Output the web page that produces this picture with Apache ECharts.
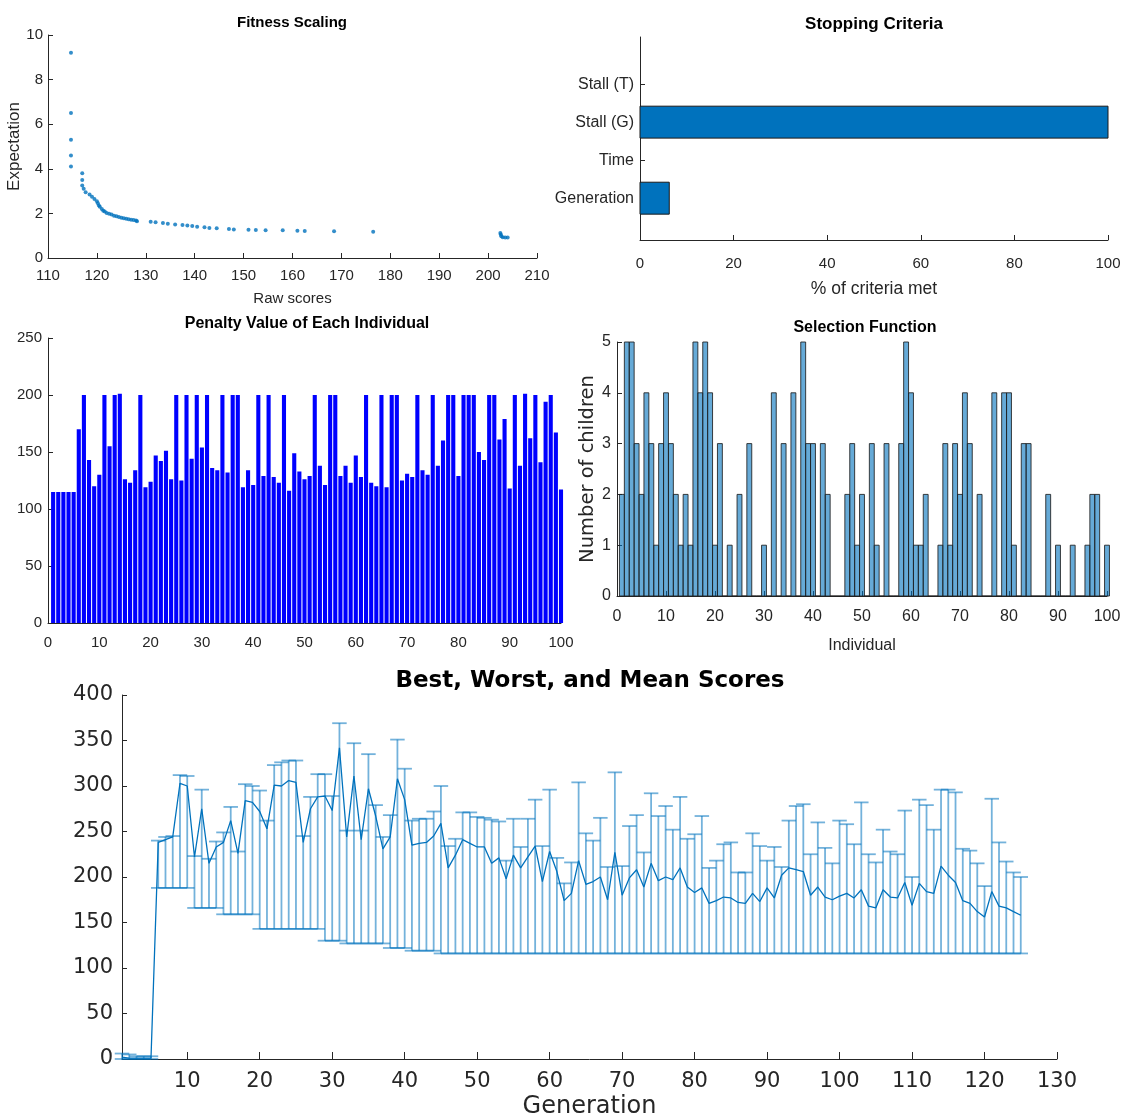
<!DOCTYPE html>
<html><head><meta charset="utf-8">
<script src="https://cdn.jsdelivr.net/npm/echarts@6.0.0/dist/echarts.min.js"></script>
<style>html,body{margin:0;padding:0;background:#fff}#c{width:1124px;height:1117px}</style>
</head><body><div id="c"></div>
<script>
// ---------- Fitness Scaling ----------
const fitRaw = [114.7,114.7,114.7,114.7,114.7,117,117,117,117.3,117.7,118.5,119,119.5,120,120.2,120.4,120.6,121,121.3,121.6,122,122.5,123,123.5,124,124.5,125,125.5,126,126.5,127,127.5,128,128.2,131,132,133.5,134.5,136,137.5,138.5,139.5,140.5,142,143,144.5,147,148,151,152.5,154.5,158,161,162.5,168.5,176.5,202.5,202.6,202.7,203,203.5,204];
const fitExp = [9.2,6.5,5.3,4.6,4.1,3.8,3.5,3.25,3.1,2.95,2.85,2.75,2.65,2.55,2.45,2.35,2.3,2.2,2.12,2.08,2.02,1.98,1.95,1.9,1.87,1.84,1.8,1.78,1.76,1.74,1.72,1.7,1.68,1.65,1.62,1.6,1.57,1.54,1.5,1.48,1.46,1.43,1.4,1.38,1.35,1.33,1.3,1.28,1.27,1.26,1.25,1.24,1.22,1.21,1.2,1.18,1.12,1.05,0.98,0.93,0.92,0.92];

// ---------- Stopping Criteria ----------
const stopNames = ['Generation','Time','Stall (G)','Stall (T)'];
const stopVals = [6.25,0,100,0];

// ---------- Penalty Value of Each Individual ----------
const penalty = [
115,115,115,115,115,170,200,143,120,130,
200,155,200,201,126,123,134,200,119,124,
147,142,151,126,200,125,200,144,200,154,
200,136,134,200,132,200,200,119,134,121,
200,129,200,128,123,200,116,149,133,126,
129,200,138,121,200,200,129,138,123,147,
128,200,123,120,200,119,200,200,125,131,
128,200,134,130,200,138,160,200,200,129,
200,200,200,150,143,200,200,161,179,118,
200,138,201,162,200,141,194,200,167,117];

// ---------- Selection Function ----------
const children = [
2,5,5,3,2,4,3,1,3,4,
3,2,1,2,1,5,4,5,4,1,
3,0,1,0,2,0,3,0,0,1,
0,4,0,3,0,4,0,5,3,3,
0,3,2,0,0,0,2,3,1,2,
0,3,1,0,3,0,0,3,5,4,
1,1,2,0,0,1,3,1,3,2,
4,3,0,2,0,0,4,0,4,4,
1,0,3,3,0,0,0,2,0,1,
0,0,1,0,0,1,2,2,0,1];

// ---------- Best, Worst, and Mean Scores ----------
const worstScore = [
6,5,3,3,3,240,244,245,312,311,
223,296,220,239,249,277,228,302,300,295,
262,323,326,328,328,245,288,313,313,289,
369,251,347,251,335,279,244,268,351,319,
262,264,264,272,300,234,242,271,271,266,
265,263,261,218,264,233,264,285,234,296,
221,193,216,304,248,240,265,211,315,212,
256,268,227,292,267,278,252,288,242,247,
267,210,218,236,238,205,205,248,234,218,
233,211,262,278,280,225,260,232,215,262,
258,236,282,225,216,252,228,225,273,200,
285,279,252,296,296,293,231,229,215,190,
286,238,217,205,200];
const meanScore = [
2,1,1,1,1,238,241,244,303,300,
222,275,215,233,238,262,226,284,282,272,
253,301,300,306,304,238,275,288,289,273,
342,244,311,241,297,267,231,244,308,285,
235,237,238,245,259,210,224,241,237,233,
233,215,221,198,224,210,222,234,195,228,
206,174,182,218,192,195,200,175,227,180,
199,208,189,215,196,200,197,210,189,183,
188,171,174,178,177,172,171,182,173,188,
177,202,210,208,206,180,189,178,175,179,
182,177,186,168,166,186,178,177,194,169,
193,184,182,212,202,194,174,171,162,156,
184,168,166,162,158];
const bestScore = [
0,0,0,0,0,188,188,188,188,188,
166,166,166,166,159,159,159,159,159,143,
143,143,143,143,143,143,143,143,130,130,
130,127,127,127,127,127,127,122,122,122,
119,119,119,119,116,116,116,116,116,116,
116,116,116,116,116,116,116,116,116,116,
116,116,116,116,116,116,116,116,116,116,
116,116,116,116,116,116,116,116,116,116,
116,116,116,116,116,116,116,116,116,116,
116,116,116,116,116,116,116,116,116,116,
116,116,116,116,116,116,116,116,116,116,
116,116,116,116,116,116,116,116,116,116,
116,116,116,116,116];
const genTicks = [10,20,30,40,50,60,70,80,90,100,110,120,130];

// ---------- chart ----------
const AXC = '#262626';
const SANS = '"Liberation Sans", Arial, sans-serif';
const DJ = '"DejaVu Sans", sans-serif';
const MBLUE = '#0072BD';

function xA(gi, o, fs, fam, margin) {
  return Object.assign({
    type: 'value', gridIndex: gi,
    axisLine: {show: true, onZero: false, lineStyle: {color: AXC, width: 1}},
    axisTick: {show: true, inside: true, length: 5, lineStyle: {color: AXC}},
    axisLabel: {color: AXC, fontSize: fs, fontFamily: fam, margin: margin},
    splitLine: {show: false},
    nameLocation: 'middle',
    nameTextStyle: {color: AXC, fontSize: fs, fontFamily: fam}
  }, o);
}

const chart = echarts.init(document.getElementById('c'));
const option = {
  animation: false,
  backgroundColor: '#fff',
  grid: [
    {left: 48, top: 35, width: 489, height: 223, outerBoundsMode: 'none', containLabel: false},
    {left: 640, top: 37, width: 468, height: 203, outerBoundsMode: 'none', containLabel: false},
    {left: 48, top: 338, width: 513, height: 285, outerBoundsMode: 'none', containLabel: false},
    {left: 617, top: 342, width: 490, height: 254, outerBoundsMode: 'none', containLabel: false},
    {left: 122, top: 695, width: 935, height: 364, outerBoundsMode: 'none', containLabel: false}
  ],
  xAxis: [
    xA(0, {min: 110, max: 210, interval: 10, name: 'Raw scores', nameGap: 33}, 15, SANS, 10),
    xA(1, {min: 0, max: 100, interval: 20, name: '% of criteria met', nameGap: 40,
      nameTextStyle: {color: AXC, fontSize: 17.5, fontFamily: SANS}}, 15, SANS, 16),
    xA(2, {min: 0, max: 100, interval: 10}, 15, SANS, 12),
    xA(3, {min: 0, max: 100, interval: 10, name: 'Individual', nameGap: 42,
      nameTextStyle: {color: AXC, fontSize: 16, fontFamily: SANS}}, 16, SANS, 13),
    xA(4, {min: 1, max: 130, name: 'Generation', nameGap: 36,
      axisLabel: {color: AXC, fontSize: 21, fontFamily: DJ, margin: 12, customValues: genTicks},
      axisTick: {show: true, inside: true, length: 7, lineStyle: {color: AXC}, customValues: genTicks},
      nameTextStyle: {color: AXC, fontSize: 24, fontFamily: DJ}}, 21, DJ, 12)
  ],
  yAxis: [
    xA(0, {min: 0, max: 10, interval: 2, name: 'Expectation', nameGap: 19,
      nameTextStyle: {color: AXC, fontSize: 17, fontFamily: SANS}}, 15, SANS, 5),
    xA(1, {min: -0.1, max: 5.24,
      axisLabel: {color: AXC, fontSize: 16, fontFamily: SANS, margin: 6, customValues: [1,2,3,4],
        formatter: v => stopNames[Math.round(v) - 1] || ''},
      axisTick: {show: true, inside: true, length: 5, lineStyle: {color: AXC}, customValues: [1,2,3,4]}}, 16, SANS, 6),
    xA(2, {min: 0, max: 250, interval: 50}, 15, SANS, 6),
    xA(3, {min: 0, max: 5, interval: 1, name: 'Number of children', nameGap: 14,
      nameTextStyle: {color: AXC, fontSize: 19.5, fontFamily: DJ}}, 16, SANS, 6),
    xA(4, {min: 0, max: 400, interval: 50}, 21, DJ, 9)
  ],
  graphic: [
    {type: 'text', x: 292, y: 23, style: {text: 'Fitness Scaling', font: 'bold 15px "Liberation Sans", Arial', fill: '#000', align: 'center', verticalAlign: 'middle'}},
    {type: 'text', x: 874, y: 24, style: {text: 'Stopping Criteria', font: 'bold 17px "Liberation Sans", Arial', fill: '#000', align: 'center', verticalAlign: 'middle'}},
    {type: 'text', x: 307, y: 324, style: {text: 'Penalty Value of Each Individual', font: 'bold 16px "Liberation Sans", Arial', fill: '#000', align: 'center', verticalAlign: 'middle'}},
    {type: 'text', x: 865, y: 328, style: {text: 'Selection Function', font: 'bold 16px "Liberation Sans", Arial', fill: '#000', align: 'center', verticalAlign: 'middle'}},
    {type: 'text', x: 590, y: 681, style: {text: 'Best, Worst, and Mean Scores', font: 'bold 23px "DejaVu Sans"', fill: '#000', align: 'center', verticalAlign: 'middle'}}
  ],
  series: [
    {
      type: 'scatter', xAxisIndex: 0, yAxisIndex: 0, symbolSize: 4,
      itemStyle: {color: MBLUE},
      data: fitRaw.map((x, i) => [x, fitExp[i]])
    },
    {
      type: 'custom', xAxisIndex: 1, yAxisIndex: 1, encode: {x: 0, y: 1},
      data: stopVals.map((v, i) => [v, i + 1]),
      renderItem: (p, api) => {
        const v = api.value(0), k = api.value(1);
        if (!v) return null;
        const a = api.coord([0, k + 0.42]), b = api.coord([v, k - 0.42]);
        return {type: 'rect', shape: {x: a[0], y: a[1], width: b[0] - a[0], height: b[1] - a[1]},
          style: {fill: MBLUE, stroke: '#1a1a1a', lineWidth: 1}};
      }
    },
    {
      type: 'custom', xAxisIndex: 2, yAxisIndex: 2, encode: {x: 0, y: 1},
      data: penalty.map((v, i) => [i + 1, v]),
      renderItem: (p, api) => {
        const k = api.value(0), v = api.value(1);
        const a = api.coord([k - 0.4, v]), b = api.coord([k + 0.4, 0]);
        return {type: 'rect', shape: {x: a[0], y: a[1], width: b[0] - a[0], height: b[1] - a[1]},
          style: {fill: '#0000FF'}};
      }
    },
    {
      type: 'custom', xAxisIndex: 3, yAxisIndex: 3, encode: {x: 0, y: 1},
      data: children.map((v, i) => [i + 1, v]),
      renderItem: (p, api) => {
        const k = api.value(0), v = api.value(1);
        const a = api.coord([k - 0.5, v]), b = api.coord([k + 0.5, 0]);
        return {type: 'rect', shape: {x: a[0], y: a[1], width: b[0] - a[0], height: b[1] - a[1]},
          style: {fill: 'rgba(0,114,189,0.6)', stroke: 'rgba(30,30,30,0.85)', lineWidth: 1}};
      }
    },
    {
      type: 'custom', xAxisIndex: 4, yAxisIndex: 4, encode: {x: 0, y: [1, 2]},
      data: meanScore.map((m, i) => [i + 1, bestScore[i], worstScore[i]]),
      renderItem: (p, api) => {
        const g = api.value(0), lo = api.value(1), hi = api.value(2);
        const pl = api.coord([g, lo]), ph = api.coord([g, hi]);
        const hw = api.size([1, 0])[0] * 1.0;
        const st = {stroke: 'rgba(0,114,189,0.55)', lineWidth: 1.8};
        return {type: 'group', children: [
          {type: 'line', shape: {x1: pl[0], y1: pl[1], x2: ph[0], y2: ph[1]}, style: st},
          {type: 'line', shape: {x1: pl[0] - hw, y1: pl[1], x2: pl[0] + hw, y2: pl[1]}, style: st},
          {type: 'line', shape: {x1: ph[0] - hw, y1: ph[1], x2: ph[0] + hw, y2: ph[1]}, style: st}
        ]};
      }
    },
    {
      type: 'line', xAxisIndex: 4, yAxisIndex: 4, showSymbol: false,
      lineStyle: {color: MBLUE, width: 1.3}, itemStyle: {color: MBLUE},
      data: meanScore.map((m, i) => [i + 1, m])
    }
  ]
};
chart.setOption(option);
</script>
</body></html>
